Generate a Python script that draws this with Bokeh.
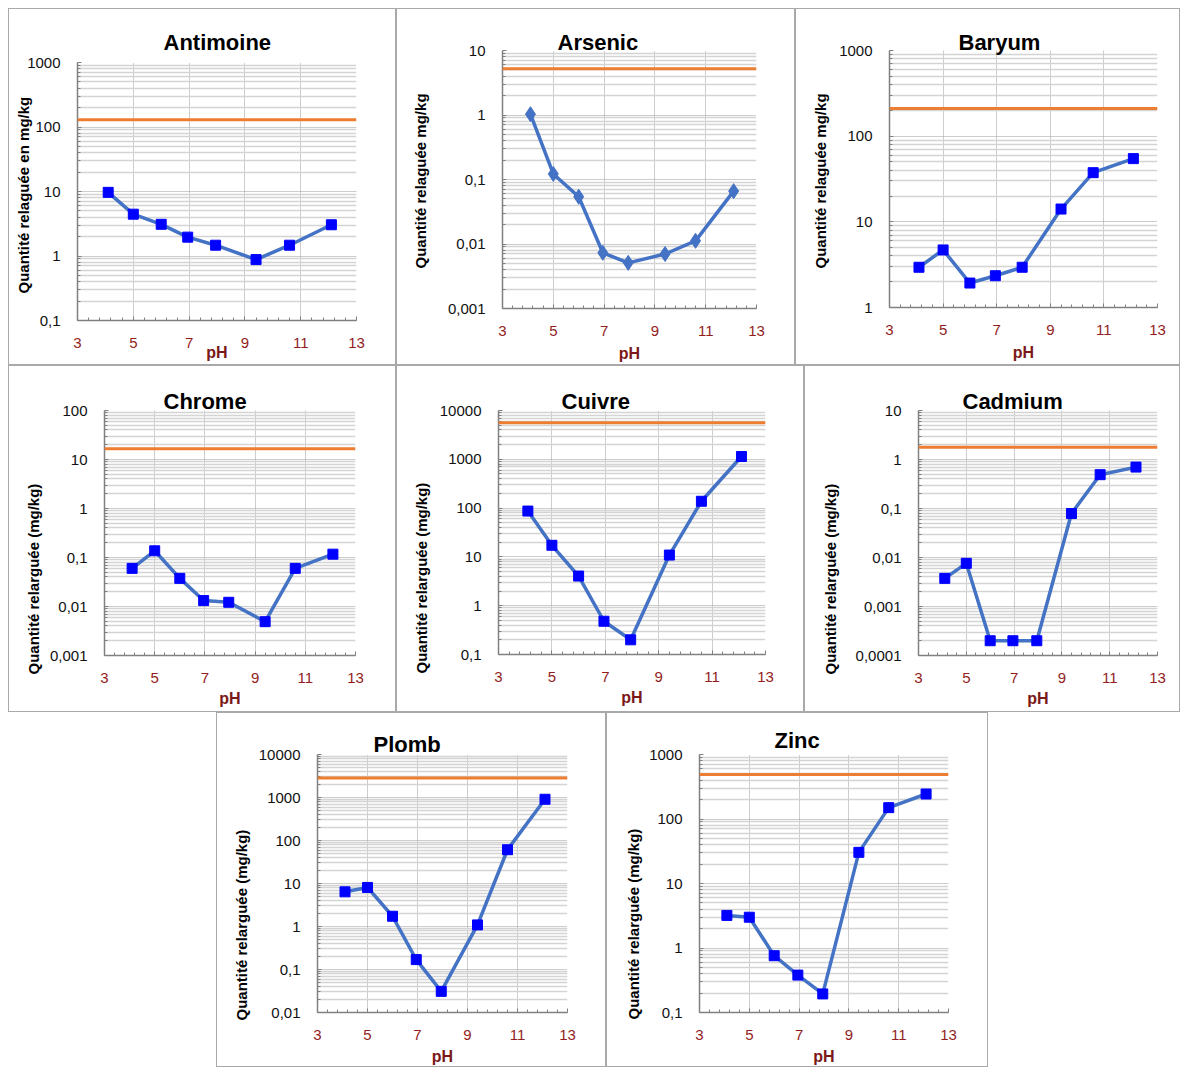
import numpy as np
from bokeh.plotting import figure
from bokeh.models import Range1d, FixedTicker, Span, Title, Spacer
from bokeh.layouts import row, column
from bokeh.embed import file_html
from bokeh.resources import INLINE

# ---------------- data ----------------
ph = [4.1, 5.0, 6.0, 6.95, 7.95, 9.4, 10.6, 12.1]

antimoine = [9.7, 4.45, 3.1, 1.96, 1.47, 0.88, 1.47, 3.05]
arsenic = [1.03, 0.122, 0.054, 0.0073, 0.0051, 0.0070, 0.0112, 0.066]
baryum = [2.95, 4.7, 1.93, 2.35, 2.95, 14.1, 37.5, 54.7]
chrome = [0.060, 0.137, 0.0375, 0.0132, 0.0122, 0.0049, 0.060, 0.117]
cuivre = [87, 17.3, 4.05, 0.48, 0.20, 10.9, 138, 1140]
cadmium = [0.00375, 0.0076, 0.0002, 0.0002, 0.0002, 0.079, 0.49, 0.70]
plomb = [6.4, 8.1, 1.73, 0.17, 0.031, 1.09, 61, 910]
zinc = [3.2, 3.0, 0.76, 0.38, 0.194, 30.4, 150, 244]

limit_antimoine = 130
limit_arsenic = 5.2
limit_baryum = 210
limit_chrome = 16.6
limit_cuivre = 5600
limit_cadmium = 1.77
limit_plomb = 2860
limit_zinc = 490

x_ticks = [3, 5, 7, 9, 11, 13]

yt_antimoine = [0.1, 1, 10, 100, 1000]
yl_antimoine = ["0,1", "1", "10", "100", "1000"]
yt_arsenic = [0.001, 0.01, 0.1, 1, 10]
yl_arsenic = ["0,001", "0,01", "0,1", "1", "10"]
yt_baryum = [1, 10, 100, 1000]
yl_baryum = ["1", "10", "100", "1000"]
yt_chrome = [0.001, 0.01, 0.1, 1, 10, 100]
yl_chrome = ["0,001", "0,01", "0,1", "1", "10", "100"]
yt_cuivre = [0.1, 1, 10, 100, 1000, 10000]
yl_cuivre = ["0,1", "1", "10", "100", "1000", "10000"]
yt_cadmium = [0.0001, 0.001, 0.01, 0.1, 1, 10]
yl_cadmium = ["0,0001", "0,001", "0,01", "0,1", "1", "10"]
yt_plomb = [0.01, 0.1, 1, 10, 100, 1000, 10000]
yl_plomb = ["0,01", "0,1", "1", "10", "100", "1000", "10000"]
yt_zinc = [0.1, 1, 10, 100, 1000]
yl_zinc = ["0,1", "1", "10", "100", "1000"]

ytitle_a = "Quantité relaguée en mg/kg"
ytitle_b = "Quantité relaguée mg/kg"
ytitle_c = "Quantité relarguée (mg/kg)"
xtitle = "pH"

FONT = "Liberation Sans"
BLUE_LINE = "#4472C4"
ORANGE = "#ED7D31"
RED_TXT = "#931D1D"


def make_panel(name, ytitle, vals, limit, yticks, ylabels, marker,
               w, h, ml, mt, fw, fh, t_off, t_stand, yl_off, yl_stand, ph_stand):
    p = figure(width=w, height=h, y_axis_type="log",
               x_range=Range1d(3, 13), y_range=Range1d(yticks[0], yticks[-1]),
               output_backend="svg", toolbar_location=None,
               min_border_left=ml, min_border_top=mt,
               min_border_right=w - ml - fw, min_border_bottom=h - mt - fh)
    p.border_fill_color = None
    p.background_fill_color = "white"
    p.outline_line_color = None
    p.styles = {"box-shadow": "inset 0 0 0 1px #a9a9a9"}

    # title
    p.title.text = name
    p.title.align = "left"
    p.title.offset = t_off
    p.title.standoff = t_stand
    p.title.text_font = FONT
    p.title.text_font_style = "bold"
    p.title.text_font_size = "22px"
    p.title.text_color = "black"

    # axes / ticks
    minor_x = [round(v, 2) for v in np.arange(3, 13.001, 0.4)]
    p.xaxis.ticker = FixedTicker(ticks=x_ticks, minor_ticks=minor_x)
    e0 = int(round(np.log10(yticks[0])))
    e1 = int(round(np.log10(yticks[-1])))
    minor_y = [m * 10.0 ** e for e in range(e0, e1) for m in range(2, 10)]
    p.yaxis.ticker = FixedTicker(ticks=yticks, minor_ticks=minor_y)
    p.yaxis.major_label_overrides = {t: l for t, l in zip(yticks, ylabels)}

    for ax in (p.xaxis, p.yaxis):
        ax.axis_line_color = "#808080"
        ax.axis_line_width = 1.5
        ax.major_tick_line_color = "#808080"
        ax.minor_tick_line_color = "#808080"
        ax.major_tick_in = 4
        ax.major_tick_out = 0
        ax.minor_tick_in = 3
        ax.minor_tick_out = 0
        ax.major_label_text_font = FONT
        ax.major_label_text_font_size = "15px"
    p.xaxis.major_label_text_color = RED_TXT
    p.xaxis.major_label_standoff = 17
    p.yaxis.major_label_text_color = "#111111"
    p.yaxis.major_label_standoff = 17

    p.xaxis.axis_label = xtitle
    p.xaxis.axis_label_standoff = ph_stand
    p.xaxis.axis_label_text_font = FONT
    p.xaxis.axis_label_text_font_style = "bold"
    p.xaxis.axis_label_text_font_size = "16px"
    p.xaxis.axis_label_text_color = "#7B1818"

    p.add_layout(Title(text=ytitle, align="left", vertical_align="top",
                       offset=yl_off, standoff=yl_stand,
                       text_font=FONT, text_font_style="bold",
                       text_font_size="15px", text_color="black"), "left")

    # grids
    p.xgrid.grid_line_color = "#9a9a9a"
    p.xgrid.grid_line_dash = "1 1"
    p.ygrid.grid_line_color = "#9a9a9a"
    p.ygrid.grid_line_dash = "1 1"
    p.ygrid.minor_grid_line_color = "#d4d4d4"
    p.ygrid.minor_grid_line_width = 1.5

    # limit line
    p.add_layout(Span(location=limit, dimension="width",
                      line_color=ORANGE, line_width=3))

    # series
    p.line(ph, vals, line_color=BLUE_LINE, line_width=3.5)
    if marker == "diamond":
        p.scatter(ph, vals, marker="diamond", size=15,
                  fill_color=BLUE_LINE, line_color=BLUE_LINE)
    else:
        p.scatter(ph, vals, marker="square", size=10,
                  fill_color="#0000FF", line_color="#0000FF")
    return p


p1 = make_panel("Antimoine", ytitle_a, antimoine, limit_antimoine, yt_antimoine, yl_antimoine, "square",
                388, 357, 69, 54, 279, 258, 86, 16, 27, -19, -7)
p2 = make_panel("Arsenic", ytitle_b, arsenic, limit_arsenic, yt_arsenic, yl_arsenic, "diamond",
                399, 357, 106, 42, 254, 258, 55, -8, 40, 28, 6)
p3 = make_panel("Baryum", ytitle_b, baryum, limit_baryum, yt_baryum, yl_baryum, "square",
                385, 357, 94, 42, 268, 257, 69, -8, 39, 11, 6)
p4 = make_panel("Chrome", ytitle_c, chrome, limit_chrome, yt_chrome, yl_chrome, "square",
                388, 347, 96, 45, 251, 245, 59, -7, -19, 6, 4)
p5 = make_panel("Cuivre", ytitle_c, cuivre, limit_cuivre, yt_cuivre, yl_cuivre, "square",
                408, 347, 102, 45, 267, 244, 63, -7, -19, 10, 4)
p6 = make_panel("Cadmium", ytitle_c, cadmium, limit_cadmium, yt_cadmium, yl_cadmium, "square",
                376, 347, 114, 45, 239, 245, 44, -7, -19, 24, 4)
p7 = make_panel("Plomb", ytitle_c, plomb, limit_plomb, yt_plomb, yl_plomb, "square",
                390, 355, 101, 42, 250, 258, 56, -4, -8, 8, 5)
p8 = make_panel("Zinc", ytitle_c, zinc, limit_zinc, yt_zinc, yl_zinc, "square",
                382, 355, 93, 42, 249, 258, 75, 3, -7, 5, 5)

grid = column(
    row(column(p1), column(p2), column(p3)),
    row(column(p4), column(p5), column(p6)),
    row(Spacer(width=208, height=355), column(p7), column(p8)),
)
layout = column(Spacer(width=10, height=8), row(Spacer(width=8, height=10), grid))

open("out.html", "w").write(file_html(layout, INLINE))
